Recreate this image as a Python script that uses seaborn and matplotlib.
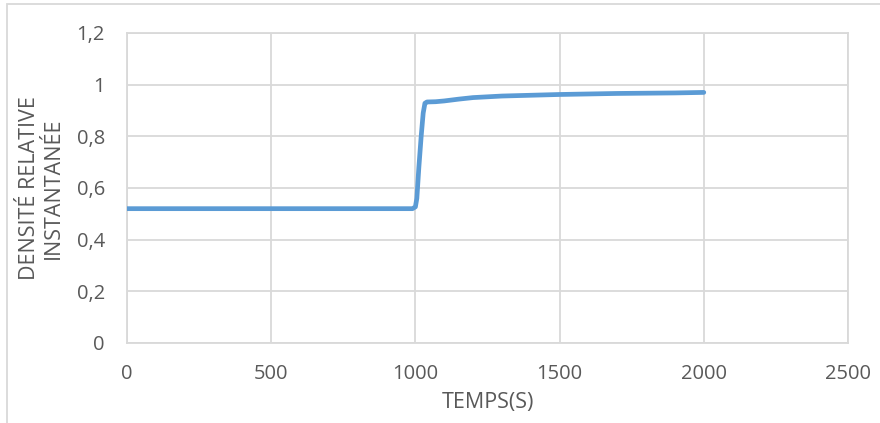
import matplotlib
matplotlib.use("Agg")
import matplotlib.pyplot as plt
import seaborn as sns
import pandas as pd
from matplotlib.patches import Rectangle

# data
temps = [0, 200, 400, 600, 800, 990, 1000, 1005, 1012, 1020, 1027, 1033, 1040, 1070,
         1100, 1150, 1200, 1250, 1300, 1400, 1500, 1600, 1700, 1800, 1900, 2000]
densite = [0.52, 0.52, 0.52, 0.52, 0.52, 0.52, 0.527, 0.56, 0.68, 0.80, 0.89, 0.928, 0.933, 0.934,
           0.937, 0.944, 0.950, 0.953, 0.956, 0.959, 0.962, 0.964, 0.966, 0.967, 0.968, 0.970]
xticks = [0, 500, 1000, 1500, 2000, 2500]
yticks = [0, 0.2, 0.4, 0.6, 0.8, 1.0, 1.2]
ytick_labels = ["0", "0,2", "0,4", "0,6", "0,8", "1", "1,2"]
xlabel = "TEMPS(S)"
ylabel = "DENSITÉ RELATIVE\nINSTANTANÉE"

df = pd.DataFrame({"temps": temps, "densite": densite})

sns.set_theme(style="white")
plt.rcParams['font.family'] = ['Open Sans', 'DejaVu Sans']

fig = plt.figure(figsize=(8.8, 4.23), dpi=100)
ax = fig.add_axes([127/880, 1 - 343/423, (848 - 127)/880, (343 - 33)/423])

grid_c = "#d9d9d9"
text_c = "#595959"

sns.lineplot(data=df, x="temps", y="densite", ax=ax, color="#5b9bd5", linewidth=3.4,
             solid_capstyle="round", solid_joinstyle="round", zorder=3)

ax.set_xlim(0, 2500)
ax.set_ylim(0, 1.2)
ax.set_xticks(xticks)
ax.set_xticklabels([str(t) for t in xticks])
ax.set_yticks(yticks)
ax.set_yticklabels(ytick_labels)
ax.grid(True, color=grid_c, linewidth=1.3, zorder=0)
ax.set_axisbelow(True)
for s in ax.spines.values():
    s.set_visible(True)
    s.set_color(grid_c)
    s.set_linewidth(1.3)

ax.tick_params(axis="x", length=0, pad=15, labelsize=14.5, labelcolor=text_c)
ax.tick_params(axis="y", length=0, pad=16, labelsize=14.5, labelcolor=text_c)

ax.set_xlabel(xlabel, fontsize=15.5, color=text_c, labelpad=6)
ax.set_ylabel(ylabel, fontsize=15.5, color=text_c, labelpad=9, linespacing=1.2)

# outer chart frame
fig.patches.append(Rectangle((7/880, -0.1), 1.2, 1 - 4.5/423 + 0.1, transform=fig.transFigure,
                             fill=False, edgecolor=grid_c, linewidth=1.3, zorder=0))

fig.savefig("out.png", dpi=100)
